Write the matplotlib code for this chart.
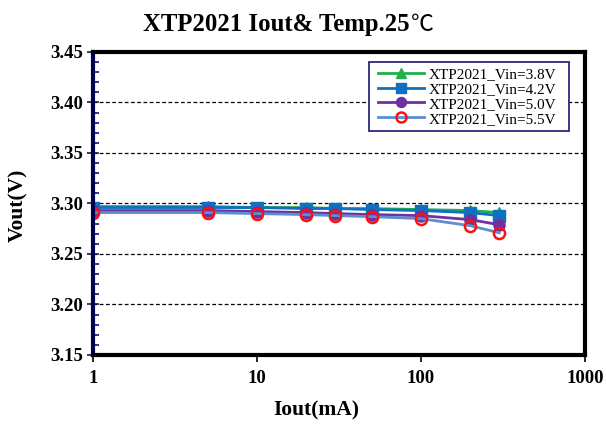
import matplotlib
matplotlib.use("Agg")
import matplotlib.pyplot as plt
from matplotlib.patches import Rectangle
from matplotlib.ticker import MultipleLocator, FixedLocator

iout = [1, 5, 10, 20, 30, 50, 100, 200, 300]
v38 = [3.297, 3.297, 3.296, 3.296, 3.295, 3.295, 3.294, 3.293, 3.291]
v42 = [3.296, 3.296, 3.296, 3.295, 3.295, 3.294, 3.293, 3.291, 3.288]
v50 = [3.293, 3.293, 3.292, 3.291, 3.290, 3.289, 3.288, 3.284, 3.279]
v55 = [3.291, 3.291, 3.290, 3.289, 3.288, 3.287, 3.285, 3.278, 3.271]
labels = ["XTP2021_Vin=3.8V", "XTP2021_Vin=4.2V", "XTP2021_Vin=5.0V", "XTP2021_Vin=5.5V"]
xticks = [1, 10, 100, 1000]
xticklabels = ["1", "10", "100", "1000"]
yticks = [3.15, 3.20, 3.25, 3.30, 3.35, 3.40, 3.45]
title_main = "XTP2021 Iout& Temp.25"
title_unit = "℃"

serif = ["Liberation Serif", "DejaVu Serif", "Noto Sans CJK SC"]
plt.rcParams["font.family"] = serif

fig = plt.figure(figsize=(6.06, 4.29), dpi=100)
ax = fig.add_axes([0.1535, 0.1725, 0.8118, 0.7063])

ax.plot(iout, v38, color="#22b04b", marker="^", ms=8, lw=2, label=labels[0])
ax.plot(iout, v42, color="#0f6fc0", marker="s", ms=8, lw=2, label=labels[1])
ax.plot(iout, v50, color="#7030a0", marker="o", ms=8, lw=2, label=labels[2])
ax.plot(iout, v55, color="#5b8fd0", marker="o", ms=8, lw=2, mfc="none",
        mec="#ff1010", mew=1.8, label=labels[3])

ax.set_xscale("log")
ax.set_xlim(1, 1000)
ax.set_ylim(3.15, 3.45)
ax.xaxis.set_major_locator(FixedLocator(xticks))
ax.xaxis.set_minor_locator(FixedLocator([]))
ax.set_xticks(xticks)
ax.set_xticklabels(xticklabels)
ax.set_yticks(yticks)
ax.set_yticklabels([f"{v:.2f}" for v in yticks])
ax.yaxis.set_minor_locator(MultipleLocator(0.01))

for t in ax.get_xticklabels() + ax.get_yticklabels():
    t.set_fontweight("bold")
    t.set_fontsize(13.5)
ax.tick_params(axis="x", which="major", direction="out", length=5, width=1.2, pad=6)
ax.tick_params(axis="y", which="major", direction="inout", length=8, width=1.2,
               color="#1a1a5a", pad=3)
ax.tick_params(axis="y", which="minor", direction="in", length=4, width=1.2, color="#10107a")

for yv in yticks[1:-1]:
    ax.axhline(yv, color="black", lw=0.9, ls=(0, (3, 2)), zorder=0)

for s in ["top", "right", "bottom"]:
    ax.spines[s].set_linewidth(3)
    ax.spines[s].set_color("black")
ax.spines["left"].set_linewidth(3)
ax.spines["left"].set_color("#000050")

fig.text(0.522, 0.042, "Iout(mA)", fontsize=15.5, fontweight="bold", ha="center", va="center")
fig.text(0.030, 0.522, "Vout(V)", fontsize=15.5, fontweight="bold", ha="center", va="center",
         rotation=90)

tmain = fig.text(0.236, 0.928, title_main, fontsize=17.8, fontweight="bold", ha="left",
                 va="baseline")
fig.canvas.draw()
bb = tmain.get_window_extent(renderer=fig.canvas.get_renderer())
x_end = bb.x1 / fig.bbox.width
fig.text(x_end + 0.002, 0.928, title_unit, fontsize=16.5, fontweight="normal", ha="left",
         va="baseline", family=["Noto Sans CJK SC", "DejaVu Sans"])

# legend box
bx0, bx1, by0, by1 = 0.561, 0.9675, 0.739, 0.967
ax.add_patch(Rectangle((bx0, by0), bx1 - bx0, by1 - by0, transform=ax.transAxes,
                       facecolor="white", edgecolor="#2a2a7a", lw=1.3, zorder=5))
leg = ax.legend(loc="center", bbox_to_anchor=((bx0 + bx1) / 2 - 0.004, (by0 + by1) / 2),
                fontsize=11, frameon=False, borderpad=0, labelspacing=0.08,
                handlelength=3.0, handletextpad=0.3, borderaxespad=0, markerscale=0.9)
leg.set_zorder(6)

fig.savefig("out.png", dpi=100)
